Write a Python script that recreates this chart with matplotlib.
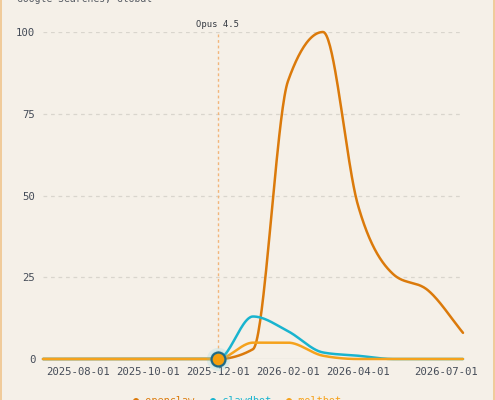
import numpy as np
import matplotlib
matplotlib.use("Agg")
import matplotlib.pyplot as plt
from matplotlib.transforms import ScaledTranslation

# monthly search interest (Google Trends style, 0-100)
months = ["2025-07-01", "2025-08-01", "2025-09-01", "2025-10-01", "2025-11-01",
          "2025-12-01", "2026-01-01", "2026-02-01", "2026-03-01", "2026-04-01",
          "2026-05-01", "2026-06-01", "2026-07-01"]
openclaw = [0, 0, 0, 0, 0, 0, 3, 85, 100, 47, 26, 21, 8]
clawdbot = [0, 0, 0, 0, 0, 0, 13, 8.5, 2, 1, 0, 0, 0]
moltbot = [0, 0, 0, 0, 0, 0, 5, 5, 1, 0, 0, 0, 0]
tick_labels = ["2025-08-01", "2025-10-01", "2025-12-01", "2026-02-01", "2026-04-01", "2026-07-01"]
event_date = "2025-12-01"
event_label = "Opus 4.5"

series = [("openclaw", openclaw, "#db7a0b"),
          ("clawdbot", clawdbot, "#19b4cf"),
          ("moltbot", moltbot, "#f5a21c")]

BG = "#f5f0e8"
TXT = "#454c58"


def monotone(y, steps=40):
    # monotone cubic (like d3 curveMonotoneX) just for drawing the line
    y = np.asarray(y, float)
    n = len(y)
    s = np.diff(y)
    m = np.zeros(n)
    for i in range(1, n - 1):
        p = (s[i - 1] + s[i]) / 2
        m[i] = (np.sign(s[i - 1]) + np.sign(s[i])) * min(abs(s[i - 1]), abs(s[i]), 0.5 * abs(p))
    m[0] = s[0]
    m[-1] = s[-1]
    xs, ys = [], []
    for i in range(n - 1):
        t = np.linspace(0, 1, steps, endpoint=(i == n - 2))
        h00 = 2 * t**3 - 3 * t**2 + 1
        h10 = t**3 - 2 * t**2 + t
        h01 = -2 * t**3 + 3 * t**2
        h11 = t**3 - t**2
        xs.append(i + t)
        ys.append(h00 * y[i] + h10 * m[i] + h01 * y[i + 1] + h11 * m[i + 1])
    return np.concatenate(xs), np.concatenate(ys)


fig = plt.figure(figsize=(4.95, 4.0), dpi=100, facecolor=BG)
W, H = 495, 400
ax = fig.add_axes([43 / W, 1 - 359 / H, 420 / W, 327 / H])
ax.set_facecolor(BG)
for sp in ax.spines.values():
    sp.set_visible(False)

x_idx = np.arange(len(months))
ax.set_xlim(0, len(months) - 1)
ax.set_ylim(0, 100)

# grid
for v in [25, 50, 75, 100]:
    ax.axhline(v, color="#d9d5cd", lw=0.9, ls=(0, (3, 3)), zorder=0)
ax.axhline(0, color="#a8abb0", lw=0.8, zorder=1)

for name, vals, col in series:
    xs, ys = monotone(vals)
    ax.plot(xs, ys, color=col, lw=1.8, clip_on=False, zorder=3, solid_capstyle="round")

# event marker
ev = months.index(event_date)
ax.plot([ev, ev], [0, 100], color="#f2b57a", lw=1.0, ls=(0, (2, 2)), zorder=2, clip_on=False)
ax.text(ev, 102.4, event_label, ha="center", va="center", fontsize=6.4,
        family="DejaVu Sans Mono", color="#333840")
ax.scatter([ev], [0], s=280, color="#5cc8e0", alpha=0.15, zorder=4, clip_on=False, lw=0)
ax.scatter([ev], [0], s=170, color="#5cc8e0", alpha=0.18, zorder=4, clip_on=False, lw=0)
ax.plot([ev], [0], "o", ms=10, mfc="#f59e0b", mec="#1d6a86", mew=1.6, zorder=5, clip_on=False)

# ticks
tick_pos = [months.index(t) for t in tick_labels]
ax.set_xticks(tick_pos)
ax.set_xticklabels(tick_labels)
ax.set_yticks([0, 25, 50, 75, 100])
ax.set_yticklabels(["0", "25", "50", "75", "100"])
ax.tick_params(length=0, colors=TXT, labelsize=7.7)
ax.tick_params(axis="x", pad=5.5)
ax.tick_params(axis="y", pad=5.5)
for lab in ax.get_xticklabels() + ax.get_yticklabels():
    lab.set_family("DejaVu Sans Mono")
last = ax.get_xticklabels()[-1]
last.set_transform(last.get_transform() + ScaledTranslation(-0.17, 0, fig.dpi_scale_trans))

# subtitle (partly cut off at the top)
fig.text(17 / W, 1 - 2 / H, "Google Searches, Global", ha="left", va="baseline",
         fontsize=7.0, family="DejaVu Sans Mono", color="#555a62")

# legend (partly cut off at the bottom)
leg_x = [133, 210, 286]
for (name, vals, col), lx in zip(series, leg_x):
    fig.text(lx / W, -4 / H, "● " + name, ha="left", va="baseline",
             fontsize=7.4, family="DejaVu Sans Mono", color=col)

# side borders
fig.add_artist(plt.Line2D([0.5 / W, 0.5 / W], [0, 1], color="#f0c48c", lw=1.2, transform=fig.transFigure))
fig.add_artist(plt.Line2D([1 - 1.5 / W, 1 - 1.5 / W], [0, 1], color="#f0c48c", lw=1.2, transform=fig.transFigure))

fig.savefig("out.png", dpi=100, facecolor=BG)
